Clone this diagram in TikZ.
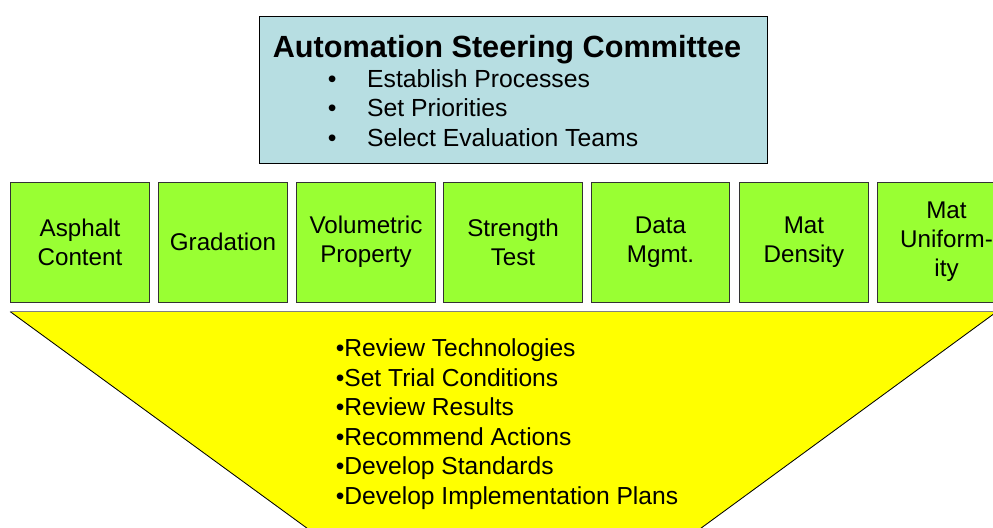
\documentclass[tikz,border=0pt]{standalone}
\usepackage{fontspec}
\setmainfont{Liberation Sans}
\usepackage{tikz}
\usetikzlibrary{positioning}
\usepackage{xcolor}
\definecolor{steerblue}{RGB}{183,222,226}
\definecolor{teamgreen}{RGB}{153,255,51}
\definecolor{funnelyellow}{RGB}{255,255,0}

\begin{document}
\begin{tikzpicture}[x=0.025cm, y=-0.025cm,
    bodyfont/.style={font=\fontsize{17.2}{20.6}\selectfont},
    teambox/.style={draw=black!80, line width=0.7pt, fill=teamgreen, rectangle, anchor=north west,
        inner sep=0pt, minimum height=120*0.025cm, align=center, bodyfont},
    listtext/.style={anchor=base west, inner sep=0pt, align=left}]
    \useasboundingbox (0,0) rectangle (993,527);
    \clip (0,0) rectangle (993,527);

    % Steering committee on top (list anchored at its last baseline)
    \node[draw, line width=0.8pt, fill=steerblue, rectangle, anchor=north west, inner sep=0pt,
        minimum width=508*0.025cm, minimum height=147*0.025cm] (committee) at (259,15.5) {};
    \node[listtext, font=\bfseries\fontsize{21.8}{25}\selectfont] (title) at (272.5,57) {Automation Steering Committee};
    \node[listtext, font=\fontsize{17.6}{21}\selectfont] (duties) at (327.5,146.5)
        {\makebox[28pt][l]{\textbullet}Establish Processes\\
         \makebox[28pt][l]{\textbullet}Set Priorities\\
         \makebox[28pt][l]{\textbullet}Select Evaluation Teams};

    % Evaluation teams
    \node[teambox, minimum width=139*0.025cm] (asphalt) at (10,181.5) {Asphalt\\Content};
    \node[teambox, minimum width=129*0.025cm] (gradation) at (158,181.5) {Gradation};
    \node[teambox, minimum width=139*0.025cm] (volumetric) at (296,181.5) {Volumetric\\Property};
    \node[teambox, minimum width=139*0.025cm] (strength) at (443,181.5) {Strength\\Test};
    \node[teambox, minimum width=138*0.025cm] (data) at (591,181.5) {Data\\Mgmt.};
    \node[teambox, minimum width=129*0.025cm] (density) at (739,181.5) {Mat\\Density};
    \node[teambox, minimum width=138*0.025cm] (uniformity) at (877,181.5) {Mat\\Uniform-\\ity};

    % Funnel of team tasks
    \coordinate (funnel-tl) at (10,311.5);
    \coordinate (funnel-tr) at (997,311.5);
    \coordinate (funnel-br) at (693,534);
    \coordinate (funnel-bl) at (315,534);
    \fill[funnelyellow] (funnel-tl) -- (funnel-tr) -- (funnel-br) -- (funnel-bl) -- cycle;
    \draw[black, line width=0.6pt] (funnel-bl) -- (funnel-tl);
    \draw[black, line width=0.6pt] (funnel-br) -- (funnel-tr);
    \draw[black!50, line width=1.4pt] (funnel-tl) -- (funnel-tr);
    \node[listtext, font=\fontsize{17.5}{21}\selectfont] (tasks) at (335.5,504.5)
        {\textbullet Review Technologies\\
         \textbullet Set Trial Conditions\\
         \textbullet Review Results\\
         \textbullet Recommend Actions\\
         \textbullet Develop Standards\\
         \textbullet Develop Implementation Plans};
\end{tikzpicture}
\end{document}
